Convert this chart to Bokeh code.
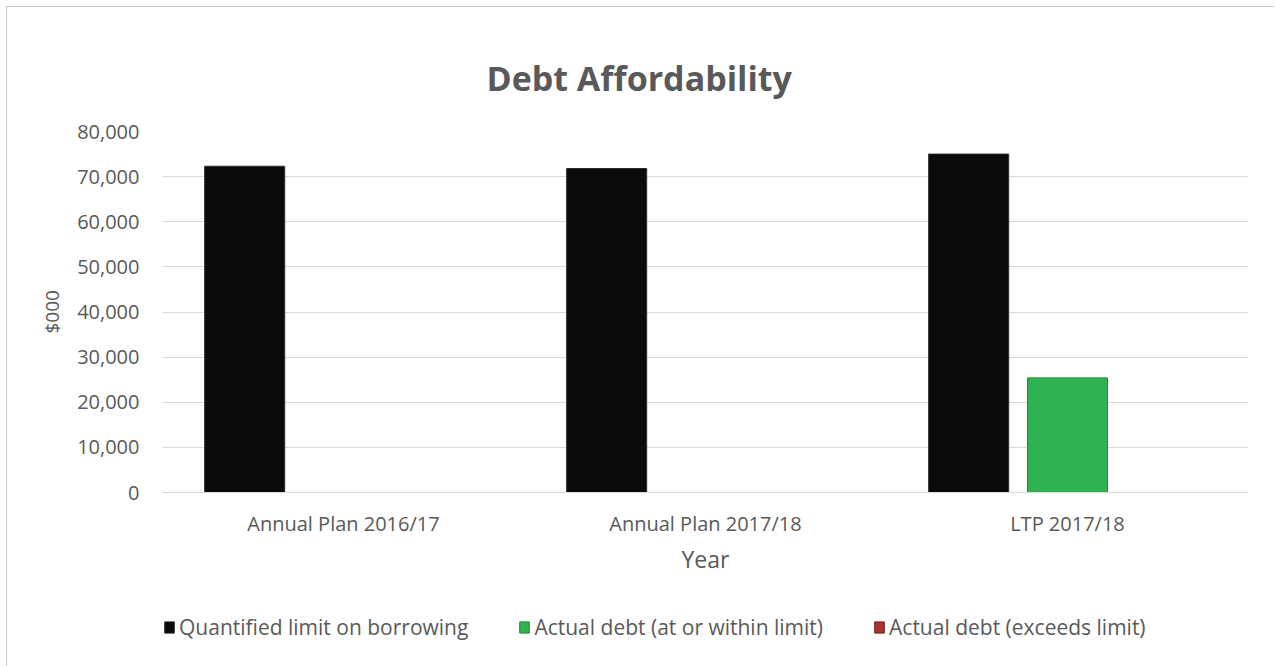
from bokeh.plotting import figure
from bokeh.models import FactorRange, Range1d, FixedTicker, NumeralTickFormatter, Legend, LegendItem, ColumnDataSource, Title
from bokeh.transform import dodge
from bokeh.embed import file_html
from bokeh.resources import INLINE

categories = ["Annual Plan 2016/17", "Annual Plan 2017/18", "LTP 2017/18"]
limit_on_borrowing = [72300, 71800, 75000]
debt_within_limit = [0, 0, 25400]
debt_exceeds_limit = [0, 0, 0]
y_ticks = [0, 10000, 20000, 30000, 40000, 50000, 60000, 70000, 80000]

series_names = ["Quantified limit on borrowing", "Actual debt (at or within limit)", "Actual debt (exceeds limit)"]
colors = ["#0a0a0a", "#2fb251", "#a83232"]
edges = ["#2a2a2a", "#1f8a3c", "#7a2020"]

FONT = "Open Sans"
GREY = "#595959"

src = ColumnDataSource(dict(cat=categories, a=limit_on_borrowing, b=debt_within_limit, c=debt_exceeds_limit))

# frame extends below the value axis so the legend can sit inside it
p = figure(x_range=FactorRange(factors=categories, range_padding=0),
           y_range=Range1d(-37450, 80000),
           width=1268, height=660, output_backend="svg", toolbar_location=None,
           min_border_left=155, min_border_right=27, min_border_top=124, min_border_bottom=6,
           margin=(6, 0, 0, 6))
p.styles = {"border-left": "1px solid #c8c8c8", "border-top": "1px solid #c8c8c8"}
p.outline_line_color = None
p.background_fill_color = "white"

p.title.text = "Debt Affordability"
p.title.align = "left"
p.title.offset = 324
p.title.text_font = FONT
p.title.text_font_size = "34px"
p.title.text_font_style = "bold"
p.title.text_color = GREY
p.title.standoff = 61

offsets = [-0.273, 0.0, 0.273]
keys = ["a", "b", "c"]
renderers = []
for k, off, col, ec in zip(keys, offsets, colors, edges):
    r = p.vbar(x=dodge("cat", off, range=p.x_range), top=k, width=0.221, source=src,
               fill_color=col, line_color=ec, line_width=1)
    renderers.append(r)

p.yaxis.ticker = FixedTicker(ticks=y_ticks)
p.yaxis.formatter = NumeralTickFormatter(format="0,0")
p.yaxis.axis_line_color = None
p.yaxis.major_tick_line_color = None
p.yaxis.minor_tick_line_color = None
p.yaxis.major_tick_out = 0
p.yaxis.major_label_text_font = FONT
p.yaxis.major_label_text_font_size = "20px"
p.yaxis.major_label_text_color = GREY
p.yaxis.major_label_standoff = 23

ylab = Title(text="$000", align="left", offset=328, standoff=19,
             text_font=FONT, text_font_size="19px", text_font_style="normal", text_color=GREY)
p.add_layout(ylab, "left")

p.xaxis.fixed_location = 0
p.xaxis.axis_line_color = "#d9d9d9"
p.xaxis.major_tick_line_color = None
p.xaxis.minor_tick_line_color = None
p.xaxis.major_tick_out = 0
p.xaxis.major_label_text_font = FONT
p.xaxis.major_label_text_font_size = "20px"
p.xaxis.major_label_text_color = GREY
p.xaxis.major_label_standoff = 17
p.xaxis.axis_label = "Year"
p.xaxis.axis_label_text_font = FONT
p.xaxis.axis_label_text_font_size = "23px"
p.xaxis.axis_label_text_font_style = "normal"
p.xaxis.axis_label_text_color = GREY
p.xaxis.axis_label_standoff = 3

p.xgrid.grid_line_color = None
p.ygrid.grid_line_color = "#d9d9d9"
p.ygrid.grid_line_width = 1

legend = Legend(items=[LegendItem(label=n, renderers=[r]) for n, r in zip(series_names, renderers)],
                orientation="horizontal", location=(1, 20),
                label_text_font=FONT, label_text_font_size="21px", label_text_color=GREY,
                glyph_width=12, glyph_height=14, label_standoff=4, spacing=50,
                border_line_color=None, background_fill_alpha=0, margin=0, padding=0)
p.add_layout(legend, "center")

open("out.html", "w").write(file_html(p, INLINE))
